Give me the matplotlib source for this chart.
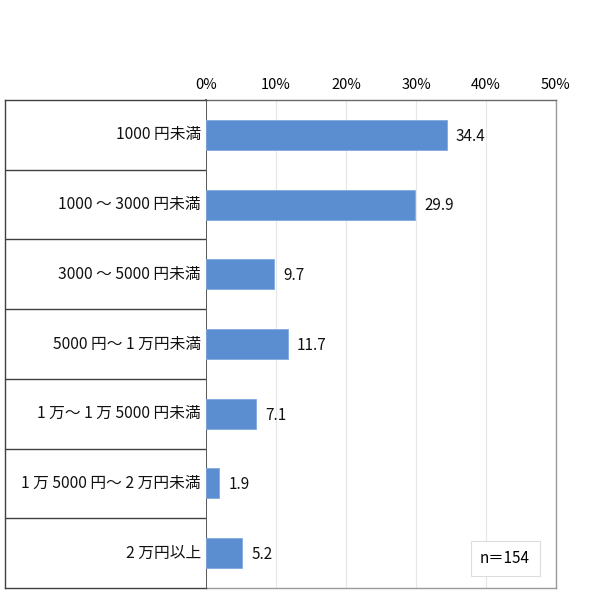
import matplotlib
matplotlib.use("Agg")
import matplotlib.pyplot as plt

plt.rcParams['font.family'] = ['Noto Sans CJK JP', 'DejaVu Sans']

categories = ["1000 円未満", "1000 ～ 3000 円未満", "3000 ～ 5000 円未満",
              "5000 円～ 1 万円未満", "1 万～ 1 万 5000 円未満",
              "1 万 5000 円～ 2 万円未満", "2 万円以上"]
values = [34.4, 29.9, 9.7, 11.7, 7.1, 1.9, 5.2]
ticks = [0, 10, 20, 30, 40, 50]
tick_labels = ["0%", "10%", "20%", "30%", "40%", "50%"]
note = "n＝154"

W, H = 590, 610
fig = plt.figure(figsize=(W/100, H/100), dpi=100)

x0, x1, xl = 206, 556, 5
y_top, y_bot = 100, 588

ax = fig.add_axes([x0/W, 1 - y_bot/H, (x1 - x0)/W, (y_bot - y_top)/H])
axl = fig.add_axes([xl/W, 1 - y_bot/H, (x0 - xl)/W, (y_bot - y_top)/H])

n = len(categories)
pos = list(range(n))
ax.barh(pos, values, height=0.43, color='#5B8ED0', edgecolor='#7FAAE0', linewidth=0.6, zorder=3)
ax.set_ylim(n - 0.5, -0.5)
ax.set_xlim(0, 50)
ax.set_xticks(ticks)
ax.set_xticklabels(tick_labels, fontsize=10.5)
ax.xaxis.tick_top()
ax.tick_params(axis='x', length=0, pad=6)
ax.set_yticks([])
ax.grid(axis='x', color='#E6E6E6', linewidth=0.8, zorder=0)
for s in ['top', 'right', 'bottom']:
    ax.spines[s].set_color('#9A9A9A')
    ax.spines[s].set_linewidth(1.0)
ax.spines['left'].set_color('#404040')
ax.spines['left'].set_linewidth(1.2)
ax.spines['top'].set_color('#6A6A6A')

for p, v in zip(pos, values):
    ax.text(v + 1.3, p + 0.02, f"{v}", va='center', ha='left', fontsize=11, color='#111111')

ax.text(0.926, 0.043, note, transform=ax.transAxes, ha='right', va='bottom', fontsize=11,
        bbox=dict(boxstyle='square,pad=0.62', facecolor='white', edgecolor='#DDDDDD', linewidth=0.8))

axl.set_xlim(0, 1)
axl.set_ylim(n - 0.5, -0.5)
axl.set_xticks([])
axl.set_yticks([])
for s in axl.spines.values():
    s.set_color('#404040')
    s.set_linewidth(1.0)
axl.spines['right'].set_visible(False)
for i in range(n - 1):
    axl.axhline(i + 0.5, color='#404040', linewidth=1.0)
for p, c in zip(pos, categories):
    axl.text(0.975, p, c, ha='right', va='center', fontsize=11.3, color='#111111')

fig.savefig("out.png", dpi=100)
